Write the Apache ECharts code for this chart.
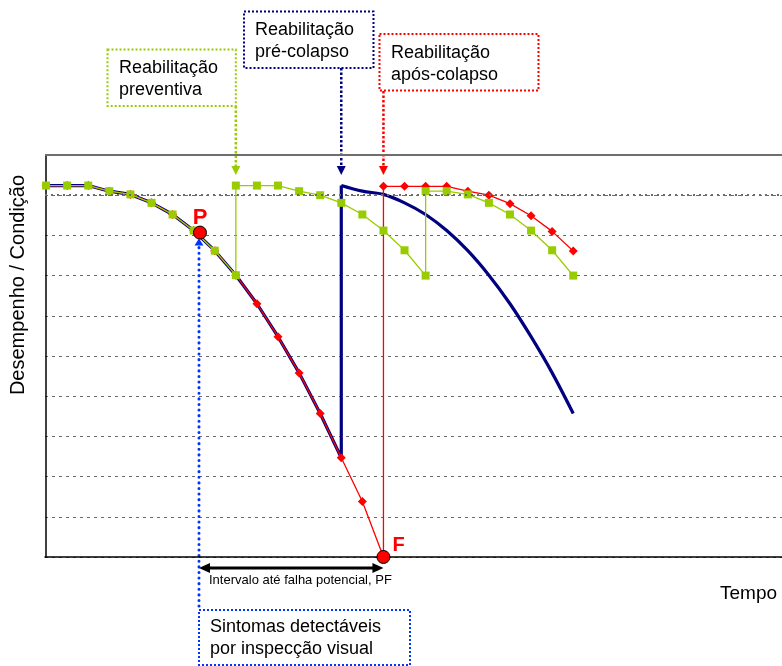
<!DOCTYPE html>
<html>
<head>
<meta charset="utf-8">
<script src="https://cdn.jsdelivr.net/npm/echarts@6/dist/echarts.min.js"></script>
<style>
html,body{margin:0;padding:0;background:#fff;}
#c{width:782px;height:666px;}
</style>
</head>
<body>
<div id="c"></div>
<script>
// ---- data (time index, condition) ----
const degradeX = [0,1,2,3,4,5,6,7,8,9,10,11,12,13,14,15,16];
const degradeY = [9.24,9.24,9.24,9.10,9.02,8.81,8.52,8.12,7.62,7.01,6.30,5.48,4.58,3.57,2.47,1.38,0];

const greenReset1X = [9,10,11,12,13,14,15,16,17,18];
const greenReset1Y = [9.24,9.24,9.24,9.10,9.00,8.81,8.52,8.12,7.63,7.00];
const greenReset2X = [18,19,20,21,22,23,24,25];
const greenReset2Y = [9.10,9.10,9.02,8.81,8.52,8.12,7.63,7.00];

const navyPostX = [14,15,16,17,18,19,20,21,22,23,24,25];
const navyPostY = [9.24,9.10,9.02,8.81,8.52,8.12,7.62,7.01,6.30,5.48,4.58,3.57];

const redPostX = [16,17,18,19,20,21,22,23,24,25];
const redPostY = [9.22,9.22,9.22,9.22,9.10,9.00,8.79,8.49,8.10,7.61];

const pointNames = ['P','F'];
const pointX = [7.3, 16];
const pointY = [8.07, 0];

const yTicks = [0,1,2,3,4,5,6,7,8,9,10];

const xTitle = 'Tempo';
const yTitle = 'Desempenho / Condição';
const boxPreventiva = ['Reabilitação','preventiva'];
const boxPre = ['Reabilitação','pré-colapso'];
const boxApos = ['Reabilitação','após-colapso'];
const boxSintomas = ['Sintomas detectáveis','por inspecção visual'];
const intervalLabel = 'Intervalo até falha potencial, PF';

// ---- build ----
const zip = (xs, ys) => xs.map((x,i)=>[x, ys[i]]);
const greenData = zip(degradeX.slice(0,10), degradeY.slice(0,10))
  .concat(zip(greenReset1X, greenReset1Y))
  .concat(zip(greenReset2X, greenReset2Y));
const navyPreData = zip(degradeX.slice(0,15), degradeY.slice(0,15)).concat([[navyPostX[0], navyPostY[0]]]);
const navyPostData = zip(navyPostX, navyPostY);
const redData = zip(degradeX, degradeY).concat(zip(redPostX, redPostY));
const pfData = pointNames.map((n,i)=>({name:n, value:[pointX[i], pointY[i]],
  label: i===0 ? {position:'top', distance:-3, fontSize:22} : {position:'right', offset:[-3,-12], fontSize:20}}));

const FONT = '"Liberation Sans", Arial, sans-serif';
const GREEN = '#99cc00', NAVY = '#000080', RED = '#ff0000', BLUE = '#0033ff';

const chart = echarts.init(document.getElementById('c'), null, {renderer:'canvas'});
chart.setOption({
  animation:false,
  backgroundColor:'#fff',
  grid:{left:45, right:0, top:155, bottom:109, containLabel:false},
  xAxis:{type:'value', min:-0.05, max:34.9, axisLine:{show:true, lineStyle:{color:'#000', width:1.5}},
         axisTick:{show:false}, axisLabel:{show:false}, splitLine:{show:false}},
  yAxis:{type:'value', min:yTicks[0], max:yTicks[yTicks.length-1], interval:1,
         axisLine:{show:true, lineStyle:{color:'#000', width:1.5}}, axisTick:{show:false}, axisLabel:{show:false},
         splitLine:{show:true, lineStyle:{color:'#6a6a6a', width:1, type:[3,4]}}},
  series:[
    {type:'line', data:navyPreData, showSymbol:false, symbol:'none', z:2,
     lineStyle:{color:NAVY, width:3.2}, itemStyle:{color:NAVY},
     markLine:{silent:true, symbol:'none', label:{show:false},
       data:[{yAxis:10, lineStyle:{color:'#6e6e6e', width:2, type:'solid'}},
             {yAxis:9, lineStyle:{color:'#6a6a6a', width:2.2, type:[2,4]}}]}},
    {type:'line', data:navyPostData, smooth:0.35, showSymbol:false, symbol:'none', z:2,
     lineStyle:{color:NAVY, width:3.2}},
    {type:'line', data:redData, symbol:'diamond', symbolSize:9, z:3,
     lineStyle:{color:RED, width:1.3}, itemStyle:{color:RED}},
    {type:'line', data:greenData, symbol:'rect', symbolSize:8, z:4,
     lineStyle:{color:GREEN, width:1.3}, itemStyle:{color:GREEN}},
    {type:'scatter', data:pfData, symbol:'circle', symbolSize:13, z:6,
     itemStyle:{color:RED, borderColor:'#000', borderWidth:1, opacity:1},
     label:{show:true, formatter:'{b}', color:RED, fontWeight:'bold', fontFamily:FONT}}
  ]
});

function px(x,y){ return chart.convertToPixel({gridIndex:0},[x,y]); }

const gx = px(greenReset1X[0], 0)[0];
const nx = px(navyPostX[0], 0)[0];
const rx = px(redPostX[0], 0)[0];
const pP = px(pointX[0], pointY[0]);
const pF = px(pointX[1], pointY[1]);
const arrowTipY = 175;

function dotted(x1,y1,x2,y2,color,w,dash,cap){
  return {type:'line', shape:{x1,y1,x2,y2}, style:{stroke:color, lineWidth:w, lineDash:dash||[2.5,2], lineCap:cap||'butt'}, silent:true};
}
function head(x,tipY,dir,color,w,h){
  return {type:'polygon', shape:{points:[[x,tipY],[x-w/2,tipY-dir*h],[x+w/2,tipY-dir*h]]}, style:{fill:color}, silent:true};
}
function box(x,y,w,h,color){
  return {type:'rect', shape:{x,y,width:w,height:h}, style:{fill:'#fff', stroke:color, lineWidth:2, lineDash:[2,2]}, silent:true};
}
function txt(x,y,t,size){
  return {type:'text', x, y, style:{text:t, fontSize:size, fontFamily:FONT, fill:'#000', textVerticalAlign:'middle', verticalAlign:'middle'}, silent:true};
}

const g = [];
// Preventiva
g.push(box(107.5, 49.5, gx-107.5, 56.5, GREEN));
g.push(txt(119, 68, boxPreventiva[0], 18));
g.push(txt(119, 90, boxPreventiva[1], 18));
g.push(dotted(gx, 106, gx, 168, GREEN, 2.5));
g.push(head(gx, arrowTipY, 1, GREEN, 9, 9));
// Pre-colapso
g.push(box(244, 11.5, 129.5, 56.5, NAVY));
g.push(txt(255, 30, boxPre[0], 18));
g.push(txt(255, 52, boxPre[1], 18));
g.push(dotted(nx, 68, nx, 168, NAVY, 2.5));
g.push(head(nx, arrowTipY, 1, NAVY, 9, 9));
// Apos-colapso
g.push(box(379.5, 34, 159, 56.5, RED));
g.push(txt(391, 53, boxApos[0], 18));
g.push(txt(391, 75, boxApos[1], 18));
g.push(dotted(rx, 91, rx, 168, RED, 2.5));
g.push(head(rx, arrowTipY, 1, RED, 9, 9));
// Sintomas
g.push(dotted(pP[0]-1, pP[1]+15, pP[0]-1, 610, BLUE, 3, [0.1,5.5], 'round'));
g.push(head(pP[0]-1, pP[1]+6, -1, BLUE, 9, 7));
g.push(box(pP[0]-1, 610, 211, 55, BLUE));
g.push(txt(210, 627, boxSintomas[0], 18));
g.push(txt(210, 649, boxSintomas[1], 18));
// interval double arrow
const ay = 568;
g.push({type:'line', shape:{x1:pP[0]+6, y1:ay, x2:pF[0]-6, y2:ay}, style:{stroke:'#000', lineWidth:3}, silent:true});
g.push({type:'polygon', shape:{points:[[pP[0]-1,ay],[pP[0]+10,ay-5],[pP[0]+10,ay+5]]}, style:{fill:'#000'}, silent:true});
g.push({type:'polygon', shape:{points:[[pF[0],ay],[pF[0]-11,ay-5],[pF[0]-11,ay+5]]}, style:{fill:'#000'}, silent:true});
g.push(txt(209, 580, intervalLabel, 13));
// axis titles
g.push(txt(720, 594, xTitle, 19));
g.push({type:'text', x:18, y:285, rotation:Math.PI/2,
  style:{text:yTitle, fontSize:20, fontFamily:FONT, fill:'#000', align:'center', textAlign:'center', verticalAlign:'middle', textVerticalAlign:'middle'}, silent:true});

chart.setOption({graphic:{elements:g}});
</script>
</body>
</html>
